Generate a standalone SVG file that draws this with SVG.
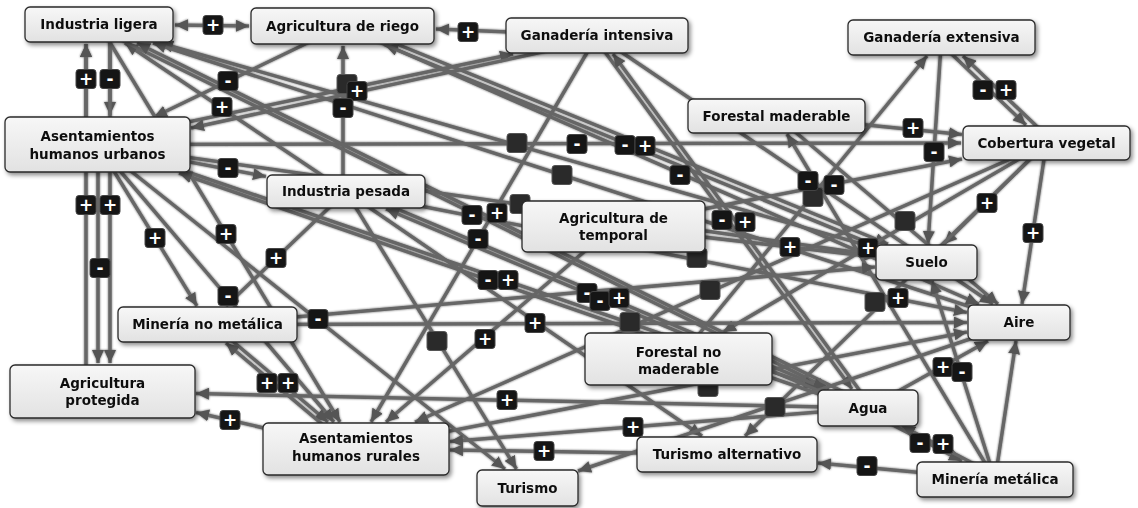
<svg xmlns="http://www.w3.org/2000/svg" width="1138" height="508" viewBox="0 0 1138 508">
<style>
.e{stroke:#666;stroke-width:3.5;fill:none;marker-end:url(#arr)}
.n rect{fill:url(#ng);stroke:#2a2a2a;stroke-width:1.3}
.n text{font-family:"DejaVu Sans",Verdana,sans-serif;font-weight:bold;font-size:13.5px;fill:#111;text-anchor:middle}
.b rect{fill:#151515;stroke:#444;stroke-width:1}
.b text{font-family:"DejaVu Sans",Verdana,sans-serif;font-weight:bold;font-size:17px;fill:#fff;text-anchor:middle}
.d rect{fill:#2a2a2a;stroke:#555;stroke-width:1}
</style>
<defs>
<linearGradient id="ng" x1="0" y1="0" x2="0" y2="1"><stop offset="0" stop-color="#f7f7f7"/><stop offset="1" stop-color="#e2e2e2"/></linearGradient>
<marker id="arr" markerUnits="userSpaceOnUse" markerWidth="14" markerHeight="12" refX="13" refY="6" orient="auto-start-reverse"><path d="M0,0 L13,6 L0,12 z" fill="#555"/></marker>
<filter id="sh" x="-10%" y="-10%" width="130%" height="140%"><feDropShadow dx="2" dy="2.5" stdDeviation="2" flood-color="#000" flood-opacity="0.45"/></filter>
<filter id="lsh" x="-5%" y="-5%" width="110%" height="110%"><feDropShadow dx="0" dy="0" stdDeviation="1.2" flood-color="#000" flood-opacity="0.6"/></filter>
</defs>
<rect width="1138" height="508" fill="#fff"/>
<g id="connectors" filter="url(#lsh)">
<line class="e" x1="175" y1="25" x2="249" y2="26" marker-start="url(#arr)"/>
<line class="e" x1="597" y1="35.5" x2="436" y2="29"/>
<line class="e" x1="86" y1="145" x2="86" y2="44"/>
<line class="e" x1="110" y1="25" x2="110" y2="115"/>
<line class="e" x1="86" y1="391" x2="86" y2="44"/>
<line class="e" x1="110" y1="25" x2="110" y2="363"/>
<line class="e" x1="98" y1="145" x2="98" y2="363"/>
<line class="e" x1="342.5" y1="26" x2="154" y2="117"/>
<line class="e" x1="346" y1="191.5" x2="125" y2="43"/>
<line class="e" x1="97" y1="141" x2="513" y2="54"/>
<line class="e" x1="598" y1="40" x2="191" y2="128"/>
<line class="e" x1="343" y1="191" x2="343" y2="46"/>
<line class="e" x1="926.5" y1="262.5" x2="160" y2="43"/>
<line class="e" x1="97.5" y1="144.5" x2="961" y2="143"/>
<line class="e" x1="345" y1="23" x2="888" y2="244"/>
<line class="e" x1="925" y1="266" x2="385" y2="45"/>
<line class="e" x1="97.5" y1="144.5" x2="266" y2="176.5"/>
<line class="e" x1="97.5" y1="144.5" x2="197" y2="306"/>
<line class="e" x1="99" y1="24.5" x2="340" y2="422"/>
<line class="e" x1="346" y1="191.5" x2="226" y2="306"/>
<line class="e" x1="97.5" y1="144.5" x2="334" y2="422"/>
<line class="e" x1="97.5" y1="144.5" x2="505" y2="469"/>
<line class="e" x1="1019" y1="322.5" x2="153" y2="43"/>
<line class="e" x1="342.5" y1="26" x2="979" y2="304"/>
<line class="e" x1="97" y1="28" x2="829" y2="389"/>
<line class="e" x1="870" y1="405" x2="137" y2="43"/>
<line class="e" x1="597" y1="35.5" x2="371" y2="422"/>
<line class="e" x1="97.5" y1="144.5" x2="875" y2="255"/>
<line class="e" x1="594" y1="37" x2="852" y2="389"/>
<line class="e" x1="871" y1="406" x2="613" y2="54"/>
<line class="e" x1="597" y1="35.5" x2="993" y2="304"/>
<line class="e" x1="613.5" y1="226.5" x2="962" y2="159"/>
<line class="e" x1="678.5" y1="359" x2="927" y2="56"/>
<line class="e" x1="613.5" y1="226.5" x2="875" y2="257"/>
<line class="e" x1="1046.5" y1="143" x2="723" y2="332"/>
<line class="e" x1="776.5" y1="116" x2="998" y2="304"/>
<line class="e" x1="1046.5" y1="143" x2="944" y2="244"/>
<line class="e" x1="1046.5" y1="143" x2="1022" y2="304"/>
<line class="e" x1="995" y1="479.5" x2="787" y2="134"/>
<line class="e" x1="1046.5" y1="143" x2="745" y2="436"/>
<line class="e" x1="776.5" y1="116" x2="962" y2="134.5"/>
<line class="e" x1="941.5" y1="37.5" x2="928" y2="244"/>
<line class="e" x1="938" y1="41" x2="1026" y2="125"/>
<line class="e" x1="1050" y1="139" x2="963" y2="56"/>
<line class="e" x1="97" y1="141" x2="817" y2="387"/>
<line class="e" x1="868" y1="411" x2="179" y2="173"/>
<line class="e" x1="207.5" y1="324.5" x2="875" y2="267"/>
<line class="e" x1="347" y1="188" x2="826" y2="389"/>
<line class="e" x1="867" y1="411" x2="386" y2="209"/>
<line class="e" x1="346" y1="191.5" x2="702" y2="436"/>
<line class="e" x1="207.5" y1="324.5" x2="967" y2="322.5"/>
<line class="e" x1="346" y1="191.5" x2="967" y2="312.5"/>
<line class="e" x1="1046.5" y1="143" x2="415" y2="422"/>
<line class="e" x1="346" y1="191.5" x2="516.5" y2="469"/>
<line class="e" x1="613.5" y1="226.5" x2="386" y2="422"/>
<line class="e" x1="868" y1="408" x2="196" y2="393.5"/>
<line class="e" x1="727" y1="454.5" x2="450" y2="450"/>
<line class="e" x1="868" y1="408" x2="450" y2="441.5"/>
<line class="e" x1="210" y1="322" x2="328" y2="422"/>
<line class="e" x1="354" y1="451" x2="226" y2="343"/>
<line class="e" x1="356" y1="449" x2="196" y2="412.5"/>
<line class="e" x1="1019" y1="322.5" x2="578" y2="471"/>
<line class="e" x1="868" y1="408" x2="988" y2="341"/>
<line class="e" x1="995" y1="479.5" x2="932" y2="281"/>
<line class="e" x1="995" y1="479.5" x2="1016" y2="341"/>
<line class="e" x1="866" y1="411" x2="962" y2="461"/>
<line class="e" x1="997" y1="476" x2="902" y2="426"/>
<line class="e" x1="995" y1="479.5" x2="818" y2="463"/>
<line class="e" x1="356" y1="449" x2="967" y2="332"/>
</g>
<g id="badges">
<g class="b"><rect x="203" y="15.5" width="20" height="19" rx="3"/><text x="213" y="31">+</text></g>
<g class="b"><rect x="458" y="22.5" width="20" height="19" rx="3"/><text x="468" y="38">+</text></g>
<g class="b"><rect x="76" y="69.5" width="20" height="19" rx="3"/><text x="86" y="85">+</text></g>
<g class="b"><rect x="100" y="69.5" width="20" height="19" rx="3"/><text x="110" y="85">-</text></g>
<g class="b"><rect x="218" y="71.5" width="20" height="19" rx="3"/><text x="228" y="87">-</text></g>
<g class="b"><rect x="212" y="97.5" width="20" height="19" rx="3"/><text x="222" y="113">+</text></g>
<g class="d"><rect x="337" y="74.5" width="20" height="19" rx="3"/></g>
<g class="b"><rect x="347" y="81.5" width="20" height="19" rx="3"/><text x="357" y="97">+</text></g>
<g class="b"><rect x="333" y="98.5" width="20" height="19" rx="3"/><text x="343" y="114">-</text></g>
<g class="d"><rect x="507" y="133.5" width="20" height="19" rx="3"/></g>
<g class="b"><rect x="567" y="134.5" width="20" height="19" rx="3"/><text x="577" y="150">-</text></g>
<g class="b"><rect x="615" y="135.5" width="20" height="19" rx="3"/><text x="625" y="151">-</text></g>
<g class="b"><rect x="635" y="136.5" width="20" height="19" rx="3"/><text x="645" y="152">+</text></g>
<g class="b"><rect x="218" y="158.5" width="20" height="19" rx="3"/><text x="228" y="174">-</text></g>
<g class="b"><rect x="76" y="195.5" width="20" height="19" rx="3"/><text x="86" y="211">+</text></g>
<g class="b"><rect x="100" y="195.5" width="20" height="19" rx="3"/><text x="110" y="211">+</text></g>
<g class="b"><rect x="90" y="258.5" width="20" height="19" rx="3"/><text x="100" y="274">-</text></g>
<g class="b"><rect x="145" y="228.5" width="20" height="19" rx="3"/><text x="155" y="244">+</text></g>
<g class="b"><rect x="216" y="224.5" width="20" height="19" rx="3"/><text x="226" y="240">+</text></g>
<g class="b"><rect x="266" y="248.5" width="20" height="19" rx="3"/><text x="276" y="264">+</text></g>
<g class="b"><rect x="218" y="286.5" width="20" height="19" rx="3"/><text x="228" y="302">-</text></g>
<g class="b"><rect x="308" y="309.5" width="20" height="19" rx="3"/><text x="318" y="325">-</text></g>
<g class="d"><rect x="552" y="165.5" width="20" height="19" rx="3"/></g>
<g class="b"><rect x="670" y="165.5" width="20" height="19" rx="3"/><text x="680" y="181">-</text></g>
<g class="d"><rect x="510" y="194.5" width="20" height="19" rx="3"/></g>
<g class="b"><rect x="462" y="205.5" width="20" height="19" rx="3"/><text x="472" y="221">-</text></g>
<g class="b"><rect x="487" y="203.5" width="20" height="19" rx="3"/><text x="497" y="219">+</text></g>
<g class="b"><rect x="468" y="229.5" width="20" height="19" rx="3"/><text x="478" y="245">-</text></g>
<g class="b"><rect x="712" y="210.5" width="20" height="19" rx="3"/><text x="722" y="226">-</text></g>
<g class="b"><rect x="735" y="212.5" width="20" height="19" rx="3"/><text x="745" y="228">+</text></g>
<g class="d"><rect x="803" y="187.5" width="20" height="19" rx="3"/></g>
<g class="b"><rect x="798" y="171.5" width="20" height="19" rx="3"/><text x="808" y="187">-</text></g>
<g class="b"><rect x="824" y="175.5" width="20" height="19" rx="3"/><text x="834" y="191">-</text></g>
<g class="b"><rect x="780" y="237.5" width="20" height="19" rx="3"/><text x="790" y="253">+</text></g>
<g class="b"><rect x="858" y="238.5" width="20" height="19" rx="3"/><text x="868" y="254">+</text></g>
<g class="d"><rect x="895" y="211.5" width="20" height="19" rx="3"/></g>
<g class="b"><rect x="977" y="193.5" width="20" height="19" rx="3"/><text x="987" y="209">+</text></g>
<g class="b"><rect x="1023" y="223.5" width="20" height="19" rx="3"/><text x="1033" y="239">+</text></g>
<g class="d"><rect x="865" y="292.5" width="20" height="19" rx="3"/></g>
<g class="b"><rect x="888" y="288.5" width="20" height="19" rx="3"/><text x="898" y="304">+</text></g>
<g class="b"><rect x="903" y="118.5" width="20" height="19" rx="3"/><text x="913" y="134">+</text></g>
<g class="b"><rect x="924" y="142.5" width="20" height="19" rx="3"/><text x="934" y="158">-</text></g>
<g class="b"><rect x="973" y="80.5" width="20" height="19" rx="3"/><text x="983" y="96">-</text></g>
<g class="b"><rect x="996" y="80.5" width="20" height="19" rx="3"/><text x="1006" y="96">+</text></g>
<g class="b"><rect x="478" y="270.5" width="20" height="19" rx="3"/><text x="488" y="286">-</text></g>
<g class="b"><rect x="498" y="270.5" width="20" height="19" rx="3"/><text x="508" y="286">+</text></g>
<g class="b"><rect x="577" y="283.5" width="20" height="19" rx="3"/><text x="587" y="299">-</text></g>
<g class="b"><rect x="590" y="291.5" width="20" height="19" rx="3"/><text x="600" y="307">-</text></g>
<g class="b"><rect x="609" y="288.5" width="20" height="19" rx="3"/><text x="619" y="304">+</text></g>
<g class="b"><rect x="525" y="313.5" width="20" height="19" rx="3"/><text x="535" y="329">+</text></g>
<g class="d"><rect x="620" y="312.5" width="20" height="19" rx="3"/></g>
<g class="d"><rect x="687" y="248.5" width="20" height="19" rx="3"/></g>
<g class="d"><rect x="700" y="280.5" width="20" height="19" rx="3"/></g>
<g class="d"><rect x="427" y="331.5" width="20" height="19" rx="3"/></g>
<g class="b"><rect x="475" y="329.5" width="20" height="19" rx="3"/><text x="485" y="345">+</text></g>
<g class="b"><rect x="497" y="390.5" width="20" height="19" rx="3"/><text x="507" y="406">+</text></g>
<g class="b"><rect x="534" y="441.5" width="20" height="19" rx="3"/><text x="544" y="457">+</text></g>
<g class="b"><rect x="623" y="417.5" width="20" height="19" rx="3"/><text x="633" y="433">+</text></g>
<g class="b"><rect x="257" y="373.5" width="20" height="19" rx="3"/><text x="267" y="389">+</text></g>
<g class="b"><rect x="278" y="373.5" width="20" height="19" rx="3"/><text x="288" y="389">+</text></g>
<g class="b"><rect x="220" y="410.5" width="20" height="19" rx="3"/><text x="230" y="426">+</text></g>
<g class="d"><rect x="765" y="397.5" width="20" height="19" rx="3"/></g>
<g class="d"><rect x="698" y="377.5" width="20" height="19" rx="3"/></g>
<g class="b"><rect x="933" y="357.5" width="20" height="19" rx="3"/><text x="943" y="373">+</text></g>
<g class="b"><rect x="952" y="362.5" width="20" height="19" rx="3"/><text x="962" y="378">-</text></g>
<g class="b"><rect x="910" y="433.5" width="20" height="19" rx="3"/><text x="920" y="449">-</text></g>
<g class="b"><rect x="933" y="434.5" width="20" height="19" rx="3"/><text x="943" y="450">+</text></g>
<g class="b"><rect x="857" y="456.5" width="20" height="19" rx="3"/><text x="867" y="472">-</text></g>
</g>
<g id="nodes" filter="url(#sh)">
<g id="n-industria-ligera" class="n"><rect x="25" y="7" width="148" height="35" rx="5"/><text x="99" y="29">Industria ligera</text></g>
<g id="n-agricultura-riego" class="n"><rect x="251" y="8" width="183" height="36" rx="5"/><text x="342.5" y="31">Agricultura de riego</text></g>
<g id="n-ganaderia-intensiva" class="n"><rect x="506" y="18" width="182" height="35" rx="5"/><text x="597" y="40">Ganadería intensiva</text></g>
<g id="n-ganaderia-extensiva" class="n"><rect x="848" y="20" width="187" height="35" rx="5"/><text x="941.5" y="42">Ganadería extensiva</text></g>
<g id="n-forestal-maderable" class="n"><rect x="688" y="99" width="177" height="34" rx="5"/><text x="776.5" y="121">Forestal maderable</text></g>
<g id="n-cobertura-vegetal" class="n"><rect x="963" y="126" width="167" height="34" rx="5"/><text x="1046.5" y="148">Cobertura vegetal</text></g>
<g id="n-asentamientos-urbanos" class="n"><rect x="5" y="117" width="185" height="55" rx="5"/><text x="97.5" y="141">Asentamientos</text><text x="97.5" y="159">humanos urbanos</text></g>
<g id="n-industria-pesada" class="n"><rect x="267" y="175" width="158" height="33" rx="5"/><text x="346" y="196">Industria pesada</text></g>
<g id="n-agricultura-temporal" class="n"><rect x="522" y="201" width="183" height="51" rx="5"/><text x="613.5" y="223">Agricultura de</text><text x="613.5" y="240">temporal</text></g>
<g id="n-suelo" class="n"><rect x="876" y="245" width="101" height="35" rx="5"/><text x="926.5" y="267">Suelo</text></g>
<g id="n-aire" class="n"><rect x="968" y="305" width="102" height="35" rx="5"/><text x="1019" y="327">Aire</text></g>
<g id="n-mineria-no-metalica" class="n"><rect x="118" y="307" width="179" height="35" rx="5"/><text x="207.5" y="329">Minería no metálica</text></g>
<g id="n-forestal-no-maderable" class="n"><rect x="585" y="333" width="187" height="52" rx="5"/><text x="678.5" y="357">Forestal no</text><text x="678.5" y="374">maderable</text></g>
<g id="n-agricultura-protegida" class="n"><rect x="10" y="365" width="185" height="53" rx="5"/><text x="102.5" y="388">Agricultura</text><text x="102.5" y="405">protegida</text></g>
<g id="n-agua" class="n"><rect x="818" y="390" width="100" height="36" rx="5"/><text x="868" y="413">Agua</text></g>
<g id="n-asentamientos-rurales" class="n"><rect x="263" y="423" width="186" height="52" rx="5"/><text x="356" y="443">Asentamientos</text><text x="356" y="461">humanos rurales</text></g>
<g id="n-turismo-alternativo" class="n"><rect x="637" y="437" width="180" height="35" rx="5"/><text x="727" y="459">Turismo alternativo</text></g>
<g id="n-turismo" class="n"><rect x="477" y="470" width="101" height="36" rx="5"/><text x="527.5" y="493">Turismo</text></g>
<g id="n-mineria-metalica" class="n"><rect x="917" y="462" width="156" height="35" rx="5"/><text x="995" y="484">Minería metálica</text></g>
</g>
</svg>
